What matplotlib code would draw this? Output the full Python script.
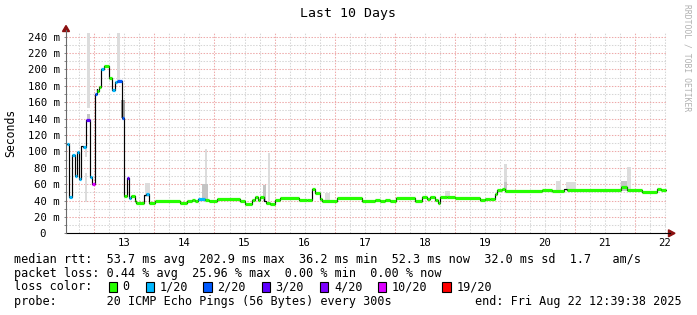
import matplotlib
matplotlib.use('Agg')
import matplotlib.pyplot as plt
from matplotlib.patches import Rectangle, Polygon
from matplotlib.lines import Line2D

# ---------------- data ----------------
title = "Last 10 Days"
ylabel = "Seconds"
x_start = 12.5275          # Aug 12 12:39:38 (day-of-month units)
x_end = 22.5275            # Aug 22 12:39:38
day_labels = ["13", "14", "15", "16", "17", "18", "19", "20", "21", "22"]
day_label_pos = [13.5, 14.5, 15.5, 16.5, 17.5, 18.5, 19.5, 20.5, 21.5, 22.5]
y_ticks = [0, 20, 40, 60, 80, 100, 120, 140, 160, 180, 200, 220, 240]

# median rtt steps (start time, ms, loss count out of 20; -1 = no loss colour drawn)
seg_t = [12.537, 12.583, 12.623, 12.673, 12.707, 12.750, 12.783, 12.817, 12.862, 12.928,
         12.967, 13.012, 13.037, 13.050, 13.083, 13.117, 13.162, 13.250, 13.290, 13.345,
         13.373, 13.457, 13.495, 13.545, 13.583, 13.617, 13.673, 13.695, 13.828, 13.862,
         13.917, 14.012, 14.428, 14.540, 14.628, 14.678, 14.728, 14.845, 14.912, 15.040,
         15.428, 15.512, 15.623, 15.678, 15.717, 15.762, 15.828, 15.862, 15.928, 16.012,
         16.095, 16.412, 16.540, 16.623, 16.667, 16.750, 16.790, 17.040, 17.457, 17.678,
         17.762, 17.845, 17.928, 18.028, 18.345, 18.457, 18.540, 18.595, 18.678, 18.717,
         18.762, 18.873, 19.012, 19.428, 19.512, 19.595, 19.667, 19.707, 19.790, 19.845,
         20.457, 20.623, 20.817, 20.873, 21.762, 21.862, 22.123, 22.373, 22.428]
seg_ms = [108.6, 44.5, 95.5, 69.8, 98.8, 66.5, 107.0, 105.0, 138.4, 69.0,
          59.6, 170.0, 176.0, 174.0, 178.0, 201.0, 203.7, 189.4, 175.0, 184.0,
          186.0, 141.0, 45.3, 67.8, 42.5, 45.3, 39.2, 37.1, 46.5, 47.8,
          37.0, 40.0, 37.1, 39.0, 40.5, 39.5, 42.0, 41.0, 39.0, 41.6,
          39.0, 36.3, 40.8, 44.5, 40.8, 44.5, 39.0, 37.0, 35.5, 40.8,
          43.3, 40.8, 41.2, 54.3, 48.6, 42.2, 39.6, 43.3, 40.0, 41.0,
          40.0, 41.0, 40.0, 43.3, 40.0, 44.0, 42.1, 44.5, 40.8, 36.7,
          43.7, 44.5, 43.3, 40.8, 41.6, 42.2, 47.4, 52.7, 54.3, 52.2,
          53.0, 51.8, 53.5, 52.7, 56.0, 53.0, 51.0, 54.5, 52.7]
seg_loss = [1, 1, 1, 1, 1, 1, -1, 1, 3, 1,
            10, 2, -1, 0, 0, 1, 0, 0, 1, 1,
            2, 2, 0, 3, 1, 0, 0, 0, -1, 1,
            0, 0, 0, 0, 0, 0, 1, 0, 0, 0,
            0, 0, 0, 0, 0, 0, -1, 0, 0, 0,
            0, 0, 0, 0, 0, 0, 0, 0, 0, 0,
            0, 0, 0, 0, 0, 0, 0, 0, 0, 0,
            0, 0, 0, 0, 0, 0, 0, 0, 0, 0,
            0, 0, -1, 0, 0, 0, 0, 0, 0]

# smoke (ping spread) bands: start, end, low ms, high ms, density level
smoke_t0 = [12.845, 12.845, 12.873, 12.873, 13.373, 13.445, 13.845, 14.845, 14.795,
            15.807, 15.883, 16.845, 18.845, 19.828, 19.828, 20.678, 20.845, 21.773, 21.873]
smoke_t1 = [12.883, 12.883, 12.928, 12.928, 13.428, 13.512, 13.928, 14.873, 14.895,
            15.862, 15.917, 16.928, 18.928, 19.873, 19.873, 20.762, 21.012, 21.873, 21.928]
smoke_lo = [93.4, 38.3, 153.0, 138.0, 187.0, 141.0, 44.0, 41.0, 40.0,
            40.0, 40.0, 40.0, 44.5, 52.0, 52.0, 51.8, 51.8, 52.0, 52.0]
smoke_hi = [105.7, 73.5, 245.0, 146.0, 245.0, 163.0, 61.0, 102.5, 60.0,
            59.0, 97.6, 48.6, 51.4, 84.5, 62.0, 63.7, 62.0, 64.0, 81.0]
smoke_lvl = [1, 1, 1, 2, 1, 3, 1, 1, 2,
             2, 1, 1, 1, 1, 2, 1, 1, 2, 1]

loss_labels = ["0", "1/20", "2/20", "3/20", "4/20", "10/20", "19/20"]
loss_keys = [0, 1, 2, 3, 4, 10, 19]

median_stats = ["53.7 ms avg", "202.9 ms max", "36.2 ms min", "52.3 ms now", "32.0 ms sd", "1.7   am/s"]
loss_stats = ["0.44 % avg", "25.96 % max", "0.00 % min", "0.00 % now"]
probe_text = "20 ICMP Echo Pings (56 Bytes) every 300s"
end_text = "end: Fri Aug 22 12:39:38 2025"
watermark = "RRDTOOL / TOBI OETIKER"

# ---------------- style ----------------
plt.rcParams['font.family'] = ['DejaVu Sans Mono']
loss_colors = {0: '#26ff00', 1: '#00b8ff', 2: '#0059ff', 3: '#5e00ff',
               4: '#7e00ff', 10: '#dd00ff', 19: '#ff0000'}
smoke_colors = {1: '#dcdcdc', 2: '#c4c4c4', 3: '#a0a0a0'}
MGRID = '#eeaaaa'
GRID = '#d6d6d6'

W, H = 697, 315
fig = plt.figure(figsize=(W / 100, H / 100), dpi=100)
fig.patch.set_facecolor('white')

def fx(x):
    return x / W

def fy(y):
    return 1 - y / H

x0, x1, yb, yt = 66, 666.6, 233.3, 32.5
ax = fig.add_axes([fx(x0), fy(yb), (x1 - x0) / W, (yb - yt) / H])
ax.set_facecolor('white')
ax.set_xlim(x_start, x_end)
ax.set_ylim(0, 245)
for s in ax.spines.values():
    s.set_visible(False)

dash = (0, (1.4, 1.4))
# vertical grid: every 6h gray, midnight red
t = 12.75
while t < x_end:
    if abs(t - round(t)) < 1e-6:
        ax.axvline(t, color=MGRID, lw=0.75, ls=dash, zorder=0.6)
    else:
        ax.axvline(t, color=GRID, lw=0.75, ls=dash, zorder=0.5)
    t += 0.25
for v in range(10, 241, 10):
    if v % 20 == 0:
        ax.axhline(v, color=MGRID, lw=0.75, ls=dash, zorder=0.6)
    else:
        ax.axhline(v, color=GRID, lw=0.75, ls=dash, zorder=0.5)

# smoke
for a, b, lo, hi, lv in zip(smoke_t0, smoke_t1, smoke_lo, smoke_hi, smoke_lvl):
    ax.bar(a, hi - lo, bottom=lo, width=b - a, align='edge',
           color=smoke_colors[lv], linewidth=0, zorder=1 + lv * 0.01)

# median: black step then loss colours
xs = seg_t + [x_end - 0.002]
ys = seg_ms + [seg_ms[-1]]
ax.step(xs, ys, where='post', color='black', lw=0.85, zorder=2)
for i in range(len(seg_t)):
    a = seg_t[i]
    b = xs[i + 1]
    if seg_loss[i] >= 0:
        ax.hlines(seg_ms[i], a, b, colors=loss_colors[seg_loss[i]], lw=2.3, zorder=3)

# ticks
ax.set_yticks(y_ticks)
ax.set_yticklabels(["0  " if v == 0 else f"{v} m" for v in y_ticks])
ax.set_yticks(list(range(10, 241, 20)), minor=True)
ax.tick_params(axis='y', which='both', length=1.6, width=0.7, color='#888888',
               pad=3, labelsize=7.7, labelcolor='#000000')
ax.set_xticks(day_label_pos)
ax.set_xticklabels(day_labels)
ax.tick_params(axis='x', length=0, pad=3.5, labelsize=7.7)
ax.tick_params(axis='x', which='minor', length=0)

# axis lines with arrows
fig.add_artist(Line2D([fx(x0), fx(670)], [fy(yb), fy(yb)], color='black', lw=0.8,
                      transform=fig.transFigure))
fig.add_artist(Line2D([fx(x0), fx(x0)], [fy(yb), fy(30)], color='#6a6a6a', lw=0.8,
                      transform=fig.transFigure))
fig.add_artist(Polygon([[fx(62.5), fy(31.5)], [fx(69.5), fy(31.5)], [fx(66), fy(25.5)]],
                       closed=True, color='#8b1010', transform=fig.transFigure))
fig.add_artist(Polygon([[fx(668.5), fy(229.8)], [fx(668.5), fy(236.8)], [fx(675), fy(233.3)]],
                       closed=True, color='#8b1010', transform=fig.transFigure))

# texts
fig.text(fx(348), fy(13), title, ha='center', va='center', size=9.5)
fig.text(fx(11), fy(132.5), ylabel, ha='center', va='center', rotation=90, size=8.3)
fig.text(fx(687.5), fy(4), watermark, ha='center', va='top', rotation=-90,
         size=5.8, color='#b0b0b0')

fs = 8.5
fig.text(fx(14.5), fy(259.3), "median rtt:  " + "  ".join(median_stats), va='center', size=fs)
fig.text(fx(14.5), fy(273.3), "packet loss: " + "  ".join(loss_stats), va='center', size=fs)
fig.text(fx(14.5), fy(286.7), "loss color:", va='center', size=fs)
box_x = [108.7, 145.7, 203.3, 261.7, 320.0, 377.7, 442.3]
lab_x = [122.5, 159.5, 217.2, 275.5, 334.0, 391.5, 456.5]
for bx, lx, key, lab in zip(box_x, lab_x, loss_keys, loss_labels):
    fig.add_artist(Rectangle((fx(bx), fy(291.5)), 8.2 / W, 9.2 / H, facecolor=loss_colors[key],
                             edgecolor='black', lw=0.8, transform=fig.transFigure))
    fig.text(fx(lx), fy(286.7), lab, va='center', size=fs)
fig.text(fx(14.5), fy(301.3), "probe:       " + probe_text, va='center', size=fs)
fig.text(fx(681.5), fy(301.3), end_text, va='center', ha='right', size=fs)

fig.savefig('out.png', dpi=100)
